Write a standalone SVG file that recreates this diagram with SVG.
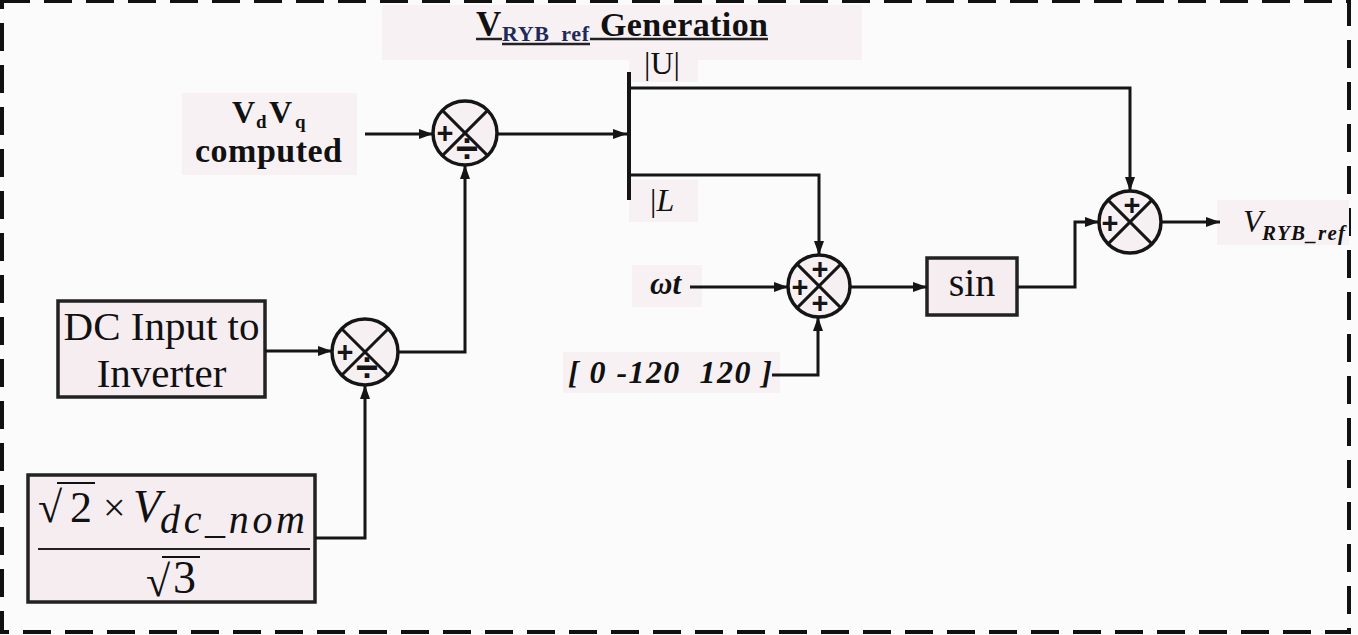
<svg xmlns="http://www.w3.org/2000/svg" width="1358" height="635" viewBox="0 0 1358 635">
<defs>
<marker id="arr" viewBox="0 0 14 10" refX="14" refY="5" markerWidth="14" markerHeight="10" markerUnits="userSpaceOnUse" orient="auto"><path d="M0,0 L14,5 L0,10 z" fill="#151515"/></marker>
<style>
.w{stroke:#151515;stroke-width:3;fill:none;marker-end:url(#arr)}
.c{fill:#f7f0f3;stroke:#151515;stroke-width:3.5}
.x{stroke:#151515;stroke-width:3}
.bg{fill:#f8f1f3}
.box{fill:#f6edf1;stroke:#222;stroke-width:3.5}
.t{font-family:"Liberation Serif","Times New Roman",serif;fill:#111}
.s{font-family:"Liberation Sans",Arial,sans-serif;font-weight:bold;fill:#151515;text-anchor:middle;font-size:29px}
.d{font-family:"Liberation Sans",Arial,sans-serif;font-weight:bold;fill:#151515;text-anchor:middle;font-size:40px}
.ul{stroke:#222;stroke-width:2.5}
</style>
</defs>
<rect width="1358" height="635" fill="#fbfbfb"/>
<rect x="2" y="1" width="1347" height="631" fill="none" stroke="#111" stroke-width="4" stroke-dasharray="28 14"/>

<g id="title">
<rect class="bg" x="382" y="5" width="480" height="55"/>
<text class="t" font-weight="bold"><tspan x="476" y="36" font-size="35">V</tspan><tspan x="502" y="41" font-size="22" fill="#1f2a5c" textLength="87">RYB_ref</tspan><tspan x="600" y="36" font-size="34" textLength="168">Generation</tspan></text>
<line class="ul" x1="476" y1="39" x2="502" y2="39"/>
<line class="ul" x1="502" y1="44" x2="590" y2="44"/>
<line class="ul" x1="590" y1="39" x2="768" y2="39"/>
</g>

<g id="vdvq">
<rect class="bg" x="182" y="93" width="175" height="82"/>
<text class="t" font-weight="bold"><tspan x="232" y="123" font-size="32">V</tspan><tspan x="256" y="128" font-size="19">d</tspan><tspan x="269" y="123" font-size="32">V</tspan><tspan x="295" y="128" font-size="19">q</tspan></text>
<text class="t" font-weight="bold" x="268.5" y="162" font-size="34" text-anchor="middle" textLength="147">computed</text>
</g>

<g id="div1">
<circle class="c" cx="465" cy="133" r="32"/>
<line class="x" x1="442.4" y1="110.4" x2="487.6" y2="155.6"/>
<line class="x" x1="487.6" y1="110.4" x2="442.4" y2="155.6"/>
<text class="s" x="445" y="143">+</text>
<text class="d" x="467" y="162">÷</text>
</g>

<g id="dcin">
<rect class="box" x="58" y="301" width="207" height="96"/>
<text class="t" x="161.5" y="340" font-size="41" text-anchor="middle">DC Input to</text>
<text class="t" x="161.5" y="387" font-size="41" text-anchor="middle">Inverter</text>
</g>

<g id="div2">
<circle class="c" cx="365" cy="352" r="33"/>
<line class="x" x1="341.7" y1="328.7" x2="388.3" y2="375.3"/>
<line class="x" x1="388.3" y1="328.7" x2="341.7" y2="375.3"/>
<text class="s" x="345" y="362">+</text>
<text class="d" x="367" y="381">÷</text>
</g>

<g id="vnom">
<rect class="box" x="28" y="475" width="287" height="127"/>
<text class="t" x="38" y="522" font-size="44">√</text>
<line stroke="#111" stroke-width="2" x1="57" y1="483" x2="95" y2="483"/>
<text class="t" x="70" y="522" font-size="44">2</text>
<text class="t" x="103" y="521" font-size="40">×</text>
<text class="t" x="133" y="522" font-size="46" font-style="italic">V</text>
<text class="t" x="160" y="533" font-size="40" font-style="italic" textLength="145">dc_nom</text>
<line stroke="#222" stroke-width="2" x1="38" y1="549" x2="310" y2="549"/>
<text class="t" x="146" y="596" font-size="44">√</text>
<line stroke="#111" stroke-width="2" x1="162" y1="557" x2="200" y2="557"/>
<text class="t" x="173" y="593" font-size="46">3</text>
</g>

<g id="ulabel">
<rect class="bg" x="629" y="43" width="69" height="39"/>
<text class="t" x="644" y="74" font-size="32">|U|</text>
</g>

<g id="llabel">
<rect class="bg" x="629" y="180" width="69" height="42"/>
<text class="t" x="650" y="211" font-size="32">|<tspan font-style="italic">L</tspan></text>
</g>

<g id="wt">
<rect class="bg" x="632" y="265" width="70" height="42"/>
<text class="t" x="650" y="294" font-size="31" font-weight="bold" font-style="italic">ωt</text>
</g>

<g id="phase">
<rect class="bg" x="563" y="352" width="217" height="41"/>
<text class="t" x="568" y="383" font-size="32" font-weight="bold" font-style="italic" textLength="204" xml:space="preserve">[ 0 -120  120 ]</text>
</g>

<g id="sum3">
<circle class="c" cx="819" cy="286" r="31"/>
<line class="x" x1="797.1" y1="264.1" x2="840.9" y2="307.9"/>
<line class="x" x1="840.9" y1="264.1" x2="797.1" y2="307.9"/>
<text class="s" x="820" y="279">+</text>
<text class="s" x="800" y="297">+</text>
<text class="s" x="820" y="313">+</text>
</g>

<g id="sin">
<rect class="box" x="927" y="258" width="90" height="57"/>
<text class="t" x="972" y="296" font-size="40" text-anchor="middle">sin</text>
</g>

<g id="sum4">
<circle class="c" cx="1130" cy="222" r="31"/>
<line class="x" x1="1108.1" y1="200.1" x2="1151.9" y2="243.9"/>
<line class="x" x1="1151.9" y1="200.1" x2="1108.1" y2="243.9"/>
<text class="s" x="1132" y="215">+</text>
<text class="s" x="1110" y="233">+</text>
</g>

<g id="vout">
<rect class="bg" x="1217" y="200" width="132" height="45"/>
<text class="t" x="1243" y="232" font-size="32" font-style="italic">V</text>
<text class="t" x="1262" y="240" font-size="21" font-weight="bold" font-style="italic" fill="#1f2a5c" textLength="83">RYB_ref</text>
</g>

<g id="connectors">
<line class="w" x1="365" y1="134" x2="433" y2="134"/>
<line class="w" x1="497" y1="134" x2="627" y2="134"/>
<line stroke="#151515" stroke-width="4" x1="629" y1="72" x2="629" y2="200"/>
<polyline class="w" points="629,88 1130,88 1130,191"/>
<polyline class="w" points="629,175 819,175 819,255"/>
<line class="w" x1="265" y1="351" x2="332" y2="351"/>
<polyline class="w" points="315,538 365,538 365,385"/>
<polyline class="w" points="398,352 465,352 465,165"/>
<line class="w" x1="690" y1="287" x2="788" y2="287"/>
<polyline class="w" points="772,375 818,375 818,317"/>
<line class="w" x1="850" y1="287" x2="927" y2="287"/>
<polyline class="w" points="1017,287 1075,287 1075,222 1099,222"/>
<line class="w" x1="1161" y1="222" x2="1220" y2="222"/>
</g>
</svg>
